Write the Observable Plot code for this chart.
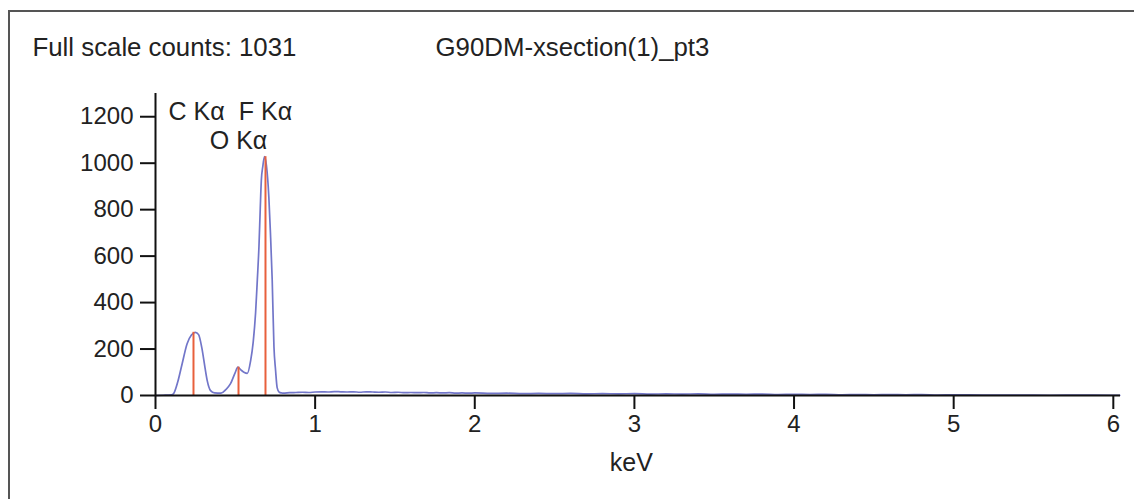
<!DOCTYPE html>
<html>
<head>
<meta charset="utf-8">
<script src="https://cdn.jsdelivr.net/npm/d3@7"></script>
<script src="https://cdn.jsdelivr.net/npm/@observablehq/plot@0.6"></script>
<style>
  html, body { margin: 0; padding: 0; background: #fff; }
  #wrap { position: relative; width: 1134px; height: 499px; overflow: hidden; }
  #border { position: absolute; left: 8px; top: 10px; width: 1200px; height: 600px;
            border-top: 2px solid #555; border-left: 2px solid #555; pointer-events: none; }
</style>
</head>
<body>
<div id="wrap"><div id="border"></div></div>
<script>
// Spectrum (keV, counts)
const keV = [0, 0.05, 0.1, 0.115, 0.14, 0.167, 0.198, 0.225, 0.25, 0.27, 0.29, 0.31, 0.324, 0.345, 0.37, 0.41, 0.44, 0.47, 0.5, 0.516, 0.535, 0.554, 0.575, 0.596, 0.612, 0.627, 0.638, 0.648, 0.656, 0.663, 0.672, 0.683, 0.695, 0.71, 0.72, 0.731, 0.742, 0.752, 0.762, 0.775, 0.79,
  0.80, 0.84, 0.88, 0.92, 0.96, 1.00, 1.04, 1.08, 1.12, 1.16, 1.20, 1.24, 1.28, 1.32, 1.36, 1.40, 1.44, 1.48, 1.52, 1.56, 1.60, 1.64, 1.68, 1.72, 1.76, 1.80, 1.84, 1.88, 1.92, 1.96, 2.00,
  2.1, 2.2, 2.3, 2.4, 2.5, 2.6, 2.7, 2.8, 2.9, 3.0, 3.1, 3.2, 3.3, 3.4, 3.5, 3.6, 3.7, 3.8, 3.9, 4.0, 4.1, 4.2, 4.3, 4.4, 4.5, 4.6, 4.7, 4.8, 4.9, 5.0, 5.2, 5.4, 5.6, 5.8, 6.0, 6.04];
const counts = [0, 1, 3, 10, 60, 137, 223, 260, 272, 262, 206, 120, 64, 21, 11, 10, 25, 51, 100, 122, 110, 100, 95, 150, 230, 356, 500, 640, 800, 927, 985, 1028, 990, 854, 700, 498, 210, 110, 34, 14, 11,
  10, 12, 13, 14, 13, 15, 16, 15, 17, 16, 15, 16, 14, 16, 15, 14, 15, 13, 14, 12, 13, 12, 13, 11, 12, 11, 12, 10, 11, 10, 11,
  9, 10, 8, 9, 8, 9, 7, 8, 7, 8, 6, 7, 6, 7, 5, 6, 5, 6, 4, 5, 4, 5, 3, 4, 3, 4, 3, 4, 2, 3, 2, 2, 1, 2, 1, 1];

// Peak marker lines
const lineKeV = [0.238, 0.52, 0.689];
const lineCounts = [272, 122, 1028];

// Peak labels
const peakLabels = ["C K\u03b1", "O K\u03b1", "F K\u03b1"];
const labelKeV = [0.257, 0.52, 0.689];
const labelCounts = [1222, 1097, 1222];

// Ticks
const xTicks = [0, 1, 2, 3, 4, 5, 6];
const yTicks = [0, 200, 400, 600, 800, 1000, 1200];

const headerLeft = "Full scale counts: 1031";
const headerTitle = "G90DM-xsection(1)_pt3";
const xLabel = "keV";

const spectrum = keV.map((k, i) => ({k, c: counts[i]}));
const markers = lineKeV.map((k, i) => ({k, c: lineCounts[i]}));
const labels = peakLabels.map((t, i) => ({t, k: labelKeV[i], c: labelCounts[i]}));

const font = "'Liberation Sans', Arial, sans-serif";

const chart = Plot.plot({
  width: 1134,
  height: 499,
  marginLeft: 155,
  marginRight: 14,
  marginTop: 93,
  marginBottom: 104,
  style: {fontFamily: font, fontSize: "24px", color: "#222", background: "transparent"},
  x: {domain: [0, 6.045]},
  y: {domain: [0, 1300]},
  marks: [
    Plot.line(spectrum, {x: "k", y: "c", stroke: "#7276c9", strokeWidth: 1.7, curve: "monotone-x"}),
    Plot.ruleX(markers, {x: "k", y1: 0, y2: "c", stroke: "#e8603c", strokeWidth: 2}),
    Plot.ruleY([0], {stroke: "#111", strokeWidth: 2}),
    Plot.ruleX([0], {y1: 0, y2: 1300, stroke: "#111", strokeWidth: 2}),
    Plot.axisX({ticks: xTicks, tickSize: 14, tickPadding: 5, tickFormat: d3.format("d"), label: null, stroke: "#111", strokeWidth: 2, fontSize: 24}),
    Plot.axisY({ticks: yTicks, tickSize: 15, tickPadding: 7, tickFormat: d3.format("d"), label: null, stroke: "#111", strokeWidth: 2, fontSize: 24}),
    Plot.text(labels, {x: "k", y: "c", text: "t", fontSize: 25, fill: "#222", textAnchor: "middle", lineAnchor: "middle"}),
    Plot.text([headerLeft], {frameAnchor: "top-left", dx: 32 - 155, dy: 47 - 93, textAnchor: "start", lineAnchor: "middle", fontSize: 25.8, fill: "#222"}),
    Plot.text([headerTitle], {frameAnchor: "top-left", dx: 435 - 155, dy: 47 - 93, textAnchor: "start", lineAnchor: "middle", fontSize: 25.8, fill: "#222"}),
    Plot.text([xLabel], {x: 3, frameAnchor: "bottom", dx: -3, dy: 462 - 395, textAnchor: "middle", lineAnchor: "middle", fontSize: 25, fill: "#222"})
  ]
});
document.getElementById("wrap").prepend(chart);
</script>
</body>
</html>
